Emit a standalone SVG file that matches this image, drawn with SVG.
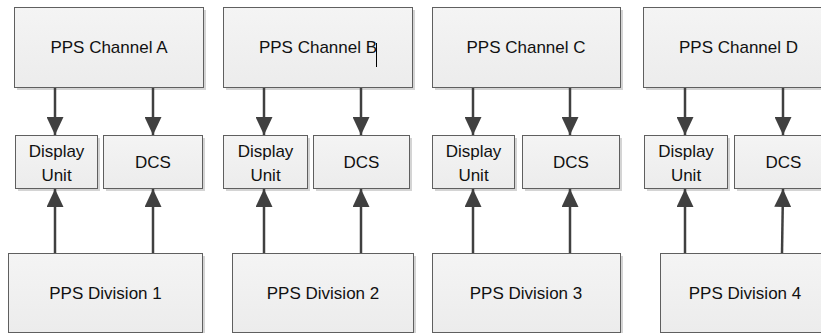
<svg xmlns="http://www.w3.org/2000/svg" width="821" height="333" viewBox="0 0 821 333">
<defs>
<linearGradient id="g" x1="0" y1="0" x2="0" y2="1">
<stop offset="0" stop-color="#f4f4f4"/>
<stop offset="1" stop-color="#ececec"/>
</linearGradient>
<marker id="ah" viewBox="0 0 18 17" refX="18" refY="8.5" markerWidth="18" markerHeight="17" markerUnits="userSpaceOnUse" orient="auto">
<path d="M0,0 L18,8.5 L0,17 Z" fill="#404040"/>
</marker>
</defs>
<style>
.box{fill:url(#g);stroke:#5f5f5f;stroke-width:1}
.sh{fill:#d4d4d4}
.t{font-family:"Liberation Sans",Arial,sans-serif;font-size:17px;fill:#111;text-anchor:middle}
.c{stroke:#404040;stroke-width:2.5;fill:none;marker-end:url(#ah)}
</style>
<rect width="821" height="333" fill="#fff"/>

<g id="chA"><rect class="sh" x="17" y="10" width="189" height="80"/><rect class="box" x="14.5" y="7.5" width="189" height="80"/><text class="t" x="109" y="53">PPS Channel A</text></g>
<g id="duA"><rect class="sh" x="18" y="138" width="82" height="53"/><rect class="box" x="15.5" y="135.5" width="82" height="53"/><text class="t" x="56.5" y="157">Display</text><text class="t" x="56.5" y="181">Unit</text></g>
<g id="dcsA"><rect class="sh" x="106" y="138" width="99" height="53"/><rect class="box" x="103.5" y="135.5" width="99" height="53"/><text class="t" x="153" y="168">DCS</text></g>
<g id="divA"><rect class="sh" x="11" y="256" width="194" height="80"/><rect class="box" x="8.5" y="253.5" width="194" height="79"/><text class="t" x="105.5" y="299">PPS Division 1</text></g>

<g id="chB"><rect class="sh" x="226" y="10" width="189" height="80"/><rect class="box" x="223.5" y="7.5" width="189" height="80"/><text class="t" x="318" y="53">PPS Channel B</text><line x1="376.5" y1="43" x2="376.5" y2="67" stroke="#000" stroke-width="1"/></g>
<g id="duB"><rect class="sh" x="226" y="138" width="84" height="53"/><rect class="box" x="223.5" y="135.5" width="84" height="53"/><text class="t" x="265.5" y="157">Display</text><text class="t" x="265.5" y="181">Unit</text></g>
<g id="dcsB"><rect class="sh" x="316" y="138" width="96" height="53"/><rect class="box" x="313.5" y="135.5" width="96" height="53"/><text class="t" x="361.5" y="168">DCS</text></g>
<g id="divB"><rect class="sh" x="235" y="256" width="181" height="80"/><rect class="box" x="232.5" y="253.5" width="181" height="79"/><text class="t" x="323" y="299">PPS Division 2</text></g>

<g id="chC"><rect class="sh" x="435" y="10" width="188" height="80"/><rect class="box" x="432.5" y="7.5" width="188" height="80"/><text class="t" x="526" y="53">PPS Channel C</text></g>
<g id="duC"><rect class="sh" x="435" y="138" width="82" height="53"/><rect class="box" x="432.5" y="135.5" width="82" height="53"/><text class="t" x="473.5" y="157">Display</text><text class="t" x="473.5" y="181">Unit</text></g>
<g id="dcsC"><rect class="sh" x="525" y="138" width="97" height="53"/><rect class="box" x="522.5" y="135.5" width="97" height="53"/><text class="t" x="571" y="168">DCS</text></g>
<g id="divC"><rect class="sh" x="435" y="256" width="188" height="80"/><rect class="box" x="432.5" y="253.5" width="188" height="79"/><text class="t" x="526" y="299">PPS Division 3</text></g>

<g id="chD"><rect class="sh" x="646" y="10" width="190" height="80"/><rect class="box" x="643.5" y="7.5" width="190" height="80"/><text class="t" x="738.5" y="53">PPS Channel D</text></g>
<g id="duD"><rect class="sh" x="647" y="138" width="83" height="53"/><rect class="box" x="644.5" y="135.5" width="83" height="53"/><text class="t" x="686" y="157">Display</text><text class="t" x="686" y="181">Unit</text></g>
<g id="dcsD"><rect class="sh" x="737" y="138" width="98" height="53"/><rect class="box" x="734.5" y="135.5" width="98" height="53"/><text class="t" x="783.5" y="168">DCS</text></g>
<g id="divD"><rect class="sh" x="663" y="256" width="172" height="80"/><rect class="box" x="660.5" y="253.5" width="172" height="79"/><text class="t" x="745" y="299">PPS Division 4</text></g>

<g id="connectors">
<line class="c" x1="55" y1="88" x2="55" y2="135"/>
<line class="c" x1="153" y1="88" x2="153" y2="135"/>
<line class="c" x1="55" y1="253" x2="55" y2="189"/>
<line class="c" x1="153" y1="253" x2="153" y2="189"/>
<line class="c" x1="264" y1="88" x2="264" y2="135"/>
<line class="c" x1="361" y1="88" x2="361" y2="135"/>
<line class="c" x1="264" y1="253" x2="264" y2="189"/>
<line class="c" x1="361" y1="253" x2="361" y2="189"/>
<line class="c" x1="473" y1="88" x2="473" y2="135"/>
<line class="c" x1="570" y1="88" x2="570" y2="135"/>
<line class="c" x1="473" y1="253" x2="473" y2="189"/>
<line class="c" x1="570" y1="253" x2="570" y2="189"/>
<line class="c" x1="685" y1="88" x2="685" y2="135"/>
<line class="c" x1="783" y1="88" x2="783" y2="135"/>
<line class="c" x1="685" y1="253" x2="685" y2="189"/>
<line class="c" x1="782" y1="253" x2="783" y2="189"/>
</g>
</svg>
